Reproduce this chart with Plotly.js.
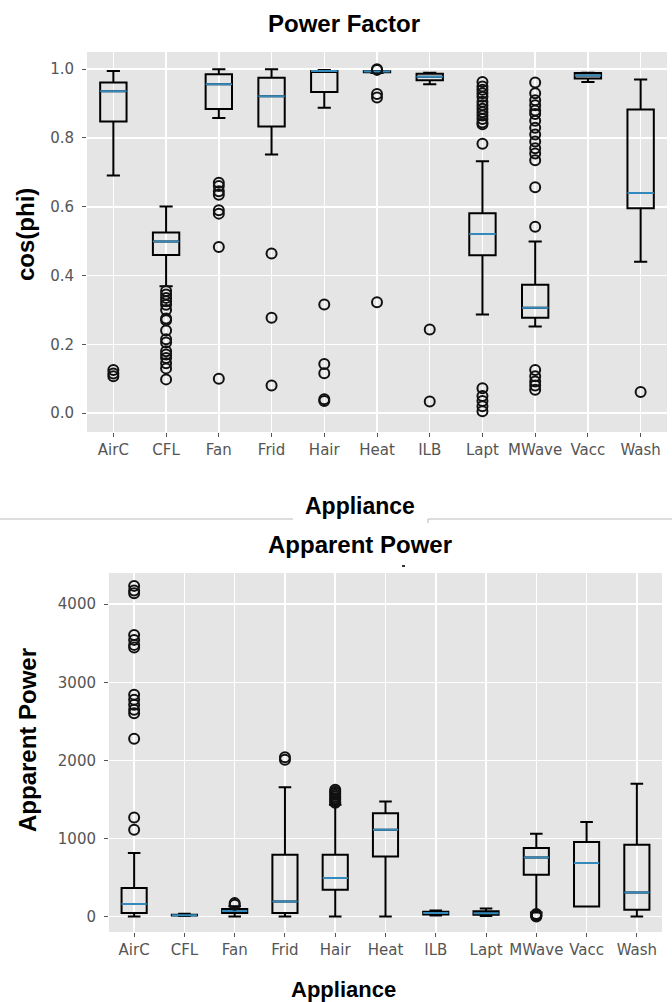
<!DOCTYPE html>
<html>
<head>
<meta charset="utf-8">
<script src="https://cdn.plot.ly/plotly-3.0.1.min.js"></script>
<style>
  html, body { margin: 0; padding: 0; background: #ffffff; }
  #chart { width: 672px; height: 1002px; }
</style>
</head>
<body>
<div id="chart"></div>
<script>
// ---- data ----
const categories = ['AirC', 'CFL', 'Fan', 'Frid', 'Hair', 'Heat', 'ILB', 'Lapt', 'MWave', 'Vacc', 'Wash'];

// Power factor (cos(phi)) box statistics
const pfLowerFence = [0.691, 0.369, 0.858, 0.752, 0.888, 0.989, 0.956, 0.287, 0.252, 0.963, 0.440];
const pfQ1         = [0.848, 0.460, 0.884, 0.833, 0.934, 0.991, 0.968, 0.459, 0.277, 0.973, 0.596];
const pfMedian     = [0.936, 0.499, 0.956, 0.921, 0.995, 0.993, 0.978, 0.521, 0.306, 0.982, 0.640];
const pfQ3         = [0.961, 0.525, 0.985, 0.975, 0.995, 0.994, 0.987, 0.581, 0.373, 0.989, 0.883];
const pfUpperFence = [0.995, 0.601, 1.000, 1.000, 0.998, 0.995, 0.990, 0.732, 0.499, 0.990, 0.970];
const pfOutliers = [
  [0.125, 0.115, 0.107],
  [0.355, 0.345, 0.335, 0.325, 0.315, 0.300, 0.275, 0.270, 0.240, 0.215, 0.205, 0.180, 0.170, 0.160, 0.145, 0.130, 0.098],
  [0.670, 0.660, 0.645, 0.635, 0.590, 0.580, 0.483, 0.100],
  [0.464, 0.277, 0.080],
  [0.316, 0.143, 0.116, 0.040, 0.035],
  [1.000, 0.998, 0.928, 0.918, 0.322],
  [0.243, 0.034],
  [0.963, 0.950, 0.940, 0.930, 0.920, 0.905, 0.895, 0.885, 0.875, 0.865, 0.855, 0.845, 0.840, 0.783, 0.072, 0.050, 0.035, 0.020, 0.005],
  [0.961, 0.930, 0.910, 0.895, 0.880, 0.870, 0.850, 0.830, 0.810, 0.790, 0.770, 0.755, 0.735, 0.657, 0.542, 0.125, 0.107, 0.092, 0.080, 0.068],
  [],
  [0.061]
];
const pfTicks = [0.0, 0.2, 0.4, 0.6, 0.8, 1.0];

// Apparent power box statistics
const apLowerFence = [0, 5, 0, 0, 0, 0, 10, 5, 50, 128, 0];
const apQ1         = [43, 12, 45, 43, 342, 768, 25, 20, 534, 128, 85];
const apMedian     = [158, 16, 70, 192, 491, 1110, 45, 40, 756, 683, 307];
const apQ3         = [363, 22, 95, 790, 790, 1323, 60, 65, 875, 952, 918];
const apUpperFence = [811, 35, 130, 1656, 1430, 1473, 75, 100, 1059, 1208, 1699];
const apOutliers = [
  [4235, 4175, 4141, 3607, 3543, 3479, 3445, 2839, 2775, 2711, 2647, 2604, 2275, 1268, 1110],
  [],
  [150, 170],
  [2040, 2006],
  [1622, 1600, 1580, 1560, 1537, 1515, 1494, 1470, 1455],
  [],
  [],
  [],
  [0, 5, 10, 20, 30],
  [],
  []
];
const apTicks = [0, 1000, 2000, 3000, 4000];

// ---- helpers ----
const W = 672, H = 1002;
const px = v => v / W;
const py = v => 1 - v / H;
const positions = categories.map((c, i) => i + 1);
const BOX_COLOR = '#000000';
const MEDIAN_COLOR = '#348ABD';

function boxTraces(q1, med, q3, lf, uf, outliers, xa, ya) {
  const main = {
    type: 'box', x: positions, q1: q1, median: med, q3: q3,
    lowerfence: lf, upperfence: uf,
    xaxis: xa, yaxis: ya, width: 0.5, whiskerwidth: 0.5,
    line: { color: BOX_COLOR, width: 2 }, fillcolor: 'rgba(0,0,0,0)',
    boxpoints: false, hoverinfo: 'skip', showlegend: false
  };
  const medianLine = {
    type: 'box', x: positions, q1: med, median: med, q3: med,
    lowerfence: med, upperfence: med,
    xaxis: xa, yaxis: ya, width: 0.5, whiskerwidth: 0,
    line: { color: MEDIAN_COLOR, width: 2 }, fillcolor: 'rgba(0,0,0,0)',
    boxpoints: false, hoverinfo: 'skip', showlegend: false
  };
  const ox = [], oy = [];
  outliers.forEach((arr, i) => arr.forEach(v => { ox.push(positions[i]); oy.push(v); }));
  const pts = {
    type: 'scatter', mode: 'markers', x: ox, y: oy, xaxis: xa, yaxis: ya,
    marker: { symbol: 'circle-open', size: 10, color: '#111111', line: { width: 2, color: '#111111' } },
    hoverinfo: 'skip', showlegend: false, cliponaxis: false
  };
  return [main, medianLine, pts];
}

const traces = [].concat(
  boxTraces(pfQ1, pfMedian, pfQ3, pfLowerFence, pfUpperFence, pfOutliers, 'x', 'y'),
  boxTraces(apQ1, apMedian, apQ3, apLowerFence, apUpperFence, apOutliers, 'x2', 'y2')
);

const tickFont = { family: 'DejaVu Sans, sans-serif', size: 15, color: '#555555' };
const axisCommon = {
  showgrid: true, gridcolor: '#ffffff', gridwidth: 1.5,
  zeroline: false, showline: false,
  ticks: 'outside', ticklen: 4, tickwidth: 1, tickcolor: '#555555',
  tickfont: tickFont, fixedrange: true
};

const titleFont = { family: 'Liberation Sans, Arial, sans-serif', size: 24, color: '#000000', weight: 'bold' };

const layout = {
  width: W, height: H,
  margin: { l: 0, r: 0, t: 0, b: 0 },
  paper_bgcolor: '#ffffff',
  plot_bgcolor: '#E5E5E5',
  boxmode: 'overlay',
  showlegend: false,
  xaxis: Object.assign({}, axisCommon, {
    domain: [px(87), px(667)], range: [0.5, 11.5], anchor: 'y',
    tickmode: 'array', tickvals: positions, ticktext: categories
  }),
  yaxis: Object.assign({}, axisCommon, {
    domain: [py(432), py(52)], range: [-0.055, 1.05], anchor: 'x',
    tickmode: 'array', tickvals: pfTicks, tickformat: '.1f', ticklabelstandoff: 5
  }),
  xaxis2: Object.assign({}, axisCommon, {
    domain: [px(109), px(662)], range: [0.5, 11.5], anchor: 'y2',
    tickmode: 'array', tickvals: positions, ticktext: categories
  }),
  yaxis2: Object.assign({}, axisCommon, {
    domain: [py(932), py(573)], range: [-200, 4400], anchor: 'x2',
    tickmode: 'array', tickvals: apTicks, ticklabelstandoff: 5
  }),
  annotations: [
    { text: 'Power Factor', x: px(344), y: py(23), xref: 'paper', yref: 'paper',
      xanchor: 'center', yanchor: 'middle', showarrow: false,
      font: Object.assign({}, titleFont, { size: 24 }) },
    { text: 'Appliance', x: px(360), y: py(506), xref: 'paper', yref: 'paper',
      xanchor: 'center', yanchor: 'middle', showarrow: false,
      font: Object.assign({}, titleFont, { size: 23 }) },
    { text: 'Apparent Power', x: px(360), y: py(544), xref: 'paper', yref: 'paper',
      xanchor: 'center', yanchor: 'middle', showarrow: false,
      font: Object.assign({}, titleFont, { size: 24 }) },
    { text: 'Appliance', x: px(343), y: py(989), xref: 'paper', yref: 'paper',
      xanchor: 'center', yanchor: 'middle', showarrow: false,
      font: Object.assign({}, titleFont, { size: 22 }) },
    { text: 'cos(phi)', x: px(26), y: py(235), xref: 'paper', yref: 'paper',
      xanchor: 'center', yanchor: 'middle', showarrow: false, textangle: -90,
      font: Object.assign({}, titleFont, { size: 24 }) },
    { text: 'Apparent Power', x: px(27), y: py(740), xref: 'paper', yref: 'paper',
      xanchor: 'center', yanchor: 'middle', showarrow: false, textangle: -90,
      font: Object.assign({}, titleFont, { size: 24 }) }
  ],
  shapes: [
    { type: 'line', xref: 'paper', yref: 'paper', x0: px(0), x1: px(293), y0: py(519), y1: py(519),
      line: { color: '#bbbbbb', width: 1 } },
    { type: 'line', xref: 'paper', yref: 'paper', x0: px(428), x1: px(672), y0: py(519), y1: py(519),
      line: { color: '#bbbbbb', width: 1 } },
    { type: 'line', xref: 'paper', yref: 'paper', x0: px(428), x1: px(428), y0: py(519), y1: py(523),
      line: { color: '#bbbbbb', width: 1 } },
    { type: 'line', xref: 'paper', yref: 'paper', x0: px(402), x1: px(405), y0: py(566), y1: py(566),
      line: { color: '#333333', width: 2 } }
  ]
};

Plotly.newPlot('chart', traces, layout, { displayModeBar: false, staticPlot: true });
</script>
</body>
</html>
